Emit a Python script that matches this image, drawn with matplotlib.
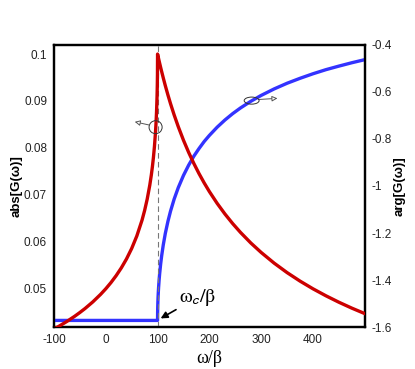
import numpy as np
import matplotlib
matplotlib.use("Agg")
import matplotlib.pyplot as plt
from matplotlib.patches import Ellipse
from matplotlib.ticker import FuncFormatter

plt.rcParams["font.family"] = ["Liberation Sans", "DejaVu Sans"]
plt.rcParams["mathtext.fontset"] = "stix"
plt.rcParams["axes.unicode_minus"] = False

# omega/beta sample points
w_below = [-100, -90, -75, -60, -50, -40, -25, -10, 0, 10, 20, 30, 40, 50, 60, 70, 75,
           80, 85, 88, 90, 92, 94, 96, 97, 98, 99, 99.5, 99.8, 100]
abs_below = [0.04142, 0.04205, 0.04305, 0.04415, 0.04495, 0.04580, 0.04721, 0.04881,
             0.05, 0.05132, 0.05279, 0.05445, 0.05635, 0.05858, 0.06126, 0.06461,
             0.06667, 0.0691, 0.07208, 0.07427, 0.07598, 0.07795, 0.08033, 0.08333,
             0.08524, 0.08761, 0.09091, 0.0934, 0.09572, 0.1]
arg_below = [-1.5708] * len(w_below)

w_above = [100, 100.1, 100.3, 100.6, 101, 101.5, 102, 103, 104, 106, 108, 111, 115, 120,
           125, 132, 140, 150, 160, 170, 180, 190, 200, 215, 230, 245, 260, 280, 300,
           325, 350, 375, 400, 425, 450, 475, 500]
abs_above = [0.1, 0.09995, 0.09985, 0.0997, 0.0995, 0.09926, 0.09901, 0.09853, 0.09806,
             0.09713, 0.09623, 0.09492, 0.09325, 0.09129, 0.08944, 0.08704, 0.08452,
             0.08165, 0.07906, 0.0767, 0.07454, 0.07255, 0.07071, 0.0682, 0.06594,
             0.06389, 0.06202, 0.05976, 0.05774, 0.05547, 0.05345, 0.05164, 0.05,
             0.04851, 0.04714, 0.04588, 0.04472]
arg_above = [-1.5708, -1.5392, -1.5161, -1.4935, -1.4711, -1.4489, -1.4303, -1.3993,
             -1.3734, -1.3306, -1.2952, -1.2505, -1.2010, -1.1503, -1.1072, -1.0559,
             -1.0069, -0.9553, -0.9117, -0.8736, -0.8411, -0.8112, -0.7854, -0.7505,
             -0.7200, -0.6929, -0.6689, -0.6405, -0.6155, -0.5880, -0.5639, -0.5429,
             -0.5236, -0.5062, -0.4911, -0.4768, -0.4637]

w_c = 100

w = w_below + w_above[1:]
g_abs = abs_below + abs_above[1:]
g_arg = arg_below + arg_above[1:]

red = "#cc0000"
blue = "#3333ff"

fig = plt.figure(figsize=(4.15, 3.69), dpi=100)
ax = fig.add_axes([0.130, 0.113, 0.749, 0.766])
ax2 = ax.twinx()

ax.axvline(w_c, color="#777777", lw=0.8, dashes=(5, 3), zorder=1)
ax2.plot(w, g_arg, color=blue, lw=2.4, zorder=3, solid_joinstyle="round")
ax.plot(w, g_abs, color=red, lw=2.4, zorder=4, solid_joinstyle="round")
ax.set_zorder(ax2.get_zorder() + 1)
ax.patch.set_visible(False)

ax.set_xlim(-100, 500)
ax.set_ylim(0.0418, 0.102)
ax2.set_ylim(-1.6, -0.4)

ax.set_xticks([-100, 0, 100, 200, 300, 400])
ax.set_yticks([0.05, 0.06, 0.07, 0.08, 0.09, 0.1])
ax2.set_yticks([-1.6, -1.4, -1.2, -1, -0.8, -0.6, -0.4])
fmt = FuncFormatter(lambda v, p: "%g" % round(v, 4))
ax.yaxis.set_major_formatter(fmt)
ax2.yaxis.set_major_formatter(fmt)

for a in (ax, ax2):
    a.tick_params(length=0, labelsize=8.5, pad=5, labelcolor="#222222")
    for s in a.spines.values():
        s.set_linewidth(1.6)

ax.set_xlabel("ω/β", fontsize=13, family="Liberation Serif", labelpad=3)
ax.set_ylabel("abs[G(ω)]", fontsize=9.5, fontweight="bold", labelpad=1)
ax2.set_ylabel("arg[G(ω)]", fontsize=9.5, fontweight="bold", labelpad=1)

ax.annotate(r"$\mathrm{\omega}_{\mathsf{c}}/\mathrm{\beta}$", xy=(105.9, 0.04369),
            xytext=(141, 0.0472), fontsize=14.5,
            arrowprops=dict(arrowstyle="-|>", color="black", lw=1.2,
                            shrinkA=0, shrinkB=0, mutation_scale=10))

# circle markers pointing to each axis
ax.add_patch(Ellipse((0.327, 0.708), 0.042, 0.046, transform=ax.transAxes,
                     fill=False, ec="#333333", lw=0.7, zorder=5))
ax.annotate("", xy=(0.260, 0.727), xytext=(0.305, 0.716), xycoords="axes fraction",
            arrowprops=dict(arrowstyle="-|>", fc="white", ec="#555555", lw=0.7,
                            shrinkA=0, shrinkB=0, mutation_scale=8))
ax.add_patch(Ellipse((0.636, 0.802), 0.048, 0.025, transform=ax.transAxes,
                     fill=False, ec="#333333", lw=0.7, zorder=5))
ax.annotate("", xy=(0.719, 0.810), xytext=(0.659, 0.806), xycoords="axes fraction",
            arrowprops=dict(arrowstyle="-|>", fc="white", ec="#555555", lw=0.7,
                            shrinkA=0, shrinkB=0, mutation_scale=8))

fig.savefig("out.png", dpi=100)
